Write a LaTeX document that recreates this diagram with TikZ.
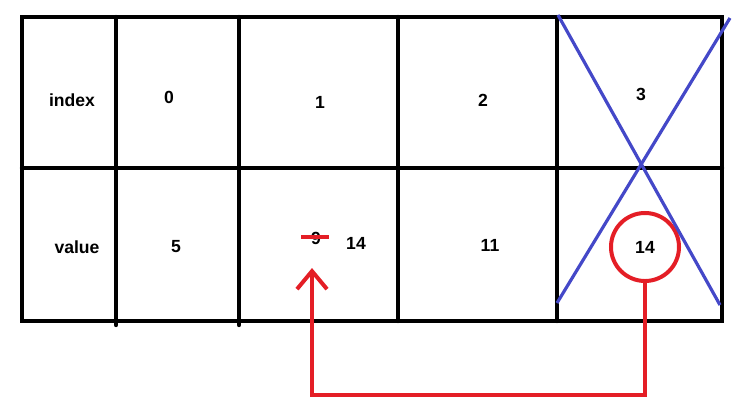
\documentclass[tikz,border=0pt]{standalone}
\usepackage{fontspec}
\setmainfont{Liberation Sans}
\usetikzlibrary{arrows.meta}

\definecolor{penred}{RGB}{228,30,38}
\definecolor{penblue}{RGB}{68,72,200}

\begin{document}
\begin{tikzpicture}[x=0.025cm,y=-0.025cm,
  grid/.style={line width=0.11cm,line cap=round},
  cell/.style={font=\fontsize{12.5}{14}\selectfont\bfseries,inner sep=1pt},
  redline/.style={penred,line width=0.1cm},
  blueline/.style={penblue,line width=0.08cm}]

 \useasboundingbox (0,0) rectangle (745,410);

 % table frame
 \draw[grid] (22,17) rectangle (722,321);
 \draw[grid] (22,168) -- (722,168); % row split
 \draw[grid] (116,17) -- (116,325);
 \draw[grid] (239,17) -- (239,325);
 \draw[grid] (398,17) -- (398,321);
 \draw[grid] (557,17) -- (557,321);

 % index row
 \node[cell] (idx)  at (72,100)  {index};
 \node[cell] (i0)   at (169,97)  {0};
 \node[cell] (i1)   at (320,102) {1};
 \node[cell] (i2)   at (483,100) {2};
 \node[cell] (i3)   at (641,94)  {3};

 % value row
 \node[cell] (val)  at (77,247)  {value};
 \node[cell] (v0)   at (176,247) {5};
 \node[cell] (v1)   at (316,238) {9};
 \node[cell] (v1n)  at (356,243) {14};
 \node[cell] (v2)   at (490,245) {11};
 \node[cell,redline,draw,circle,minimum size=1.7cm,text=black] (v3) at (645,247) {14};

 % old value struck out
 \draw[redline] (v1.west) ++(-8,-1) -- ++(28,0);

 % last slot removed
 \draw[blueline] (558,15) -- (720,305);
 \draw[blueline] (730,18) -- (557,303);

 % move 14 back to index 1
 \coordinate (tip) at (312,268);
 \draw[redline,-{Straight Barb[length=0.45cm,width=0.75cm]}] (v3.south) -- (v3.south |- 0,395) -| (tip);

\end{tikzpicture}
\end{document}
